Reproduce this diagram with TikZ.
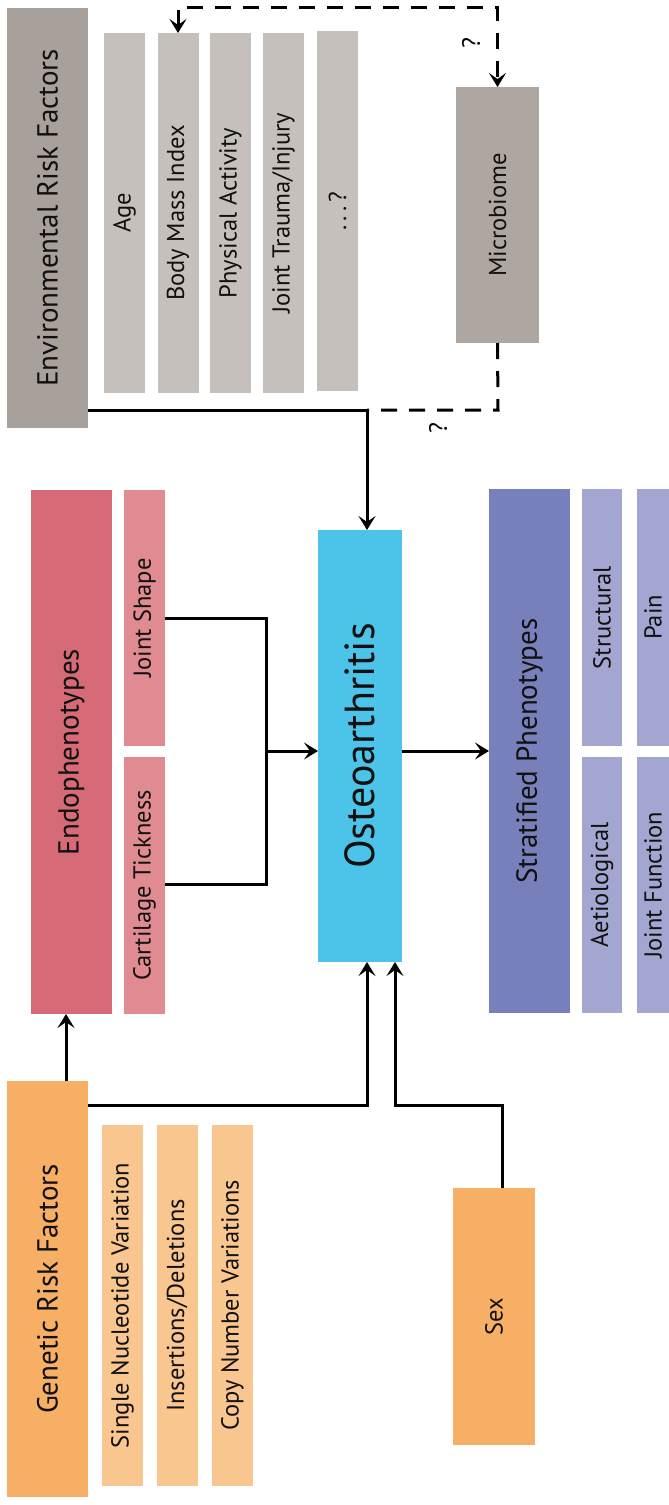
\documentclass[tikz,border=0pt]{standalone}
\usepackage{fontspec}
\setmainfont{PT Sans}
\usetikzlibrary{arrows.meta,calc}
\definecolor{envc}{HTML}{A8A09B}
\definecolor{envs}{HTML}{C5C0BB}
\definecolor{micc}{HTML}{AEA6A1}
\definecolor{endc}{HTML}{D66B77}
\definecolor{ends}{HTML}{E08A92}
\definecolor{ostc}{HTML}{4CC4EA}
\definecolor{strc}{HTML}{7880BC}
\definecolor{strs}{HTML}{A2A6D0}
\definecolor{genc}{HTML}{F7AF65}
\definecolor{gens}{HTML}{FAC68F}
\definecolor{txt}{HTML}{111111}
\tikzset{
  box/.style={draw=none, inner sep=0pt, outer sep=0pt, text=txt, align=center},
  hdr/.style={box, font=\fontsize{29}{32}\selectfont},
  sub/.style={box, font=\fontsize{24.5}{27}\selectfont},
  conn/.style={line width=3pt, draw=black, line join=miter},
  tip/.style={-{Stealth[length=14pt,width=17pt,inset=6pt]}},
  arr/.style={conn, tip},
  dsh/.style={conn, dash pattern=on 16pt off 12pt},
  qm/.style={inner sep=0pt, font=\fontsize{25}{28}\selectfont}
}
\newcommand{\rt}[1]{\rotatebox{90}{#1}}
\begin{document}
\begin{tikzpicture}[x=1pt,y=-1pt]
\clip (0,0) rectangle (669,1505);
\fill[white] (0,0) rectangle (669,1505);
% Environmental
\node[hdr, fill=envc, minimum width=81pt, minimum height=420pt] (env) at (47.5,218) {\rt{Environmental Risk Factors}};
\node[sub, fill=envs, minimum width=41pt, minimum height=360pt] (age) at (124.5,213) {\rt{Age}};
\node[sub, fill=envs, minimum width=41pt, minimum height=360pt] (bmi) at (178,213) {\rt{Body Mass Index}};
\node[sub, fill=envs, minimum width=41pt, minimum height=360pt] (pa) at (230.5,213) {\rt{Physical Activity}};
\node[sub, fill=envs, minimum width=41pt, minimum height=360pt] (jt) at (283.5,213) {\rt{Joint Trauma/Injury}};
\node[sub, fill=envs, minimum width=41pt, minimum height=360pt] (etc) at (337.5,211) {\rt{.\,.\,.\,?}};
\node[sub, fill=micc, minimum width=83pt, minimum height=256pt] (mic) at (497.5,215) {\rt{Microbiome}};
% Endophenotypes
\node[hdr, fill=endc, minimum width=81pt, minimum height=524pt] (endo) at (71.5,752) {\rt{Endophenotypes}};
\node[sub, fill=ends, minimum width=41pt, minimum height=256pt] (js) at (144.5,618) {\rt{Joint Shape}};
\node[sub, fill=ends, minimum width=41pt, minimum height=257pt] (ct) at (144.5,885.5) {\rt{Cartilage Tickness}};
% Osteoarthritis
\node[box, fill=ostc, minimum width=84pt, minimum height=432pt, font=\fontsize{42}{46}\selectfont] (ost) at (360,746) {\rt{Osteoarthritis}};
% Stratified
\node[hdr, fill=strc, minimum width=81pt, minimum height=524pt] (strat) at (529.5,751) {\rt{Stratified Phenotypes}};
\node[sub, fill=strs, minimum width=40pt, minimum height=257pt] (stru) at (602,617.5) {\rt{Structural}};
\node[sub, fill=strs, minimum width=32pt, minimum height=257pt] (pain) at (653,617.5) {\rt{Pain}};
\node[sub, fill=strs, minimum width=40pt, minimum height=256pt] (aet) at (602,885) {\rt{Aetiological}};
\node[sub, fill=strs, minimum width=32pt, minimum height=256pt] (jf) at (653,885) {\rt{Joint Function}};
% Genetic
\node[hdr, fill=genc, minimum width=81pt, minimum height=416pt] (gen) at (47.5,1289) {\rt{Genetic Risk Factors}};
\node[sub, fill=gens, minimum width=41pt, minimum height=361pt] (snv) at (122.5,1305.5) {\rt{Single Nucleotide Variation}};
\node[sub, fill=gens, minimum width=41pt, minimum height=361pt] (ind) at (177,1305.5) {\rt{Insertions/Deletions}};
\node[sub, fill=gens, minimum width=41pt, minimum height=361pt] (cnv) at (232.5,1305.5) {\rt{Copy Number Variations}};
\node[sub, fill=genc, minimum width=82pt, minimum height=257pt] (sex) at (494,1316.5) {\rt{Sex}};
% coordinates
\coordinate (j1) at (367,410);
\coordinate (j2) at (498,410);
\coordinate (t1) at (0,7);
\coordinate (m) at (266,751);
\coordinate (a) at (266,618);
\coordinate (b) at (266,884);
\coordinate (g1) at (66,0);
\coordinate (g2) at (367,1105);
\coordinate (s1) at (502,1105);
\coordinate (s2) at (395,1105);
% connectors
\draw[arr] (env.east |- j1) -- (j1) -- (ost.north -| j1);
\draw[dsh] (mic.south) -- (j2) -- (j1);
\draw[dsh, {Stealth[length=14pt,width=17pt,inset=6pt]}-{Stealth[length=14pt,width=17pt,inset=6pt]}] (bmi.north) -- (bmi.north |- t1) -- (mic.north |- t1) -- (mic.north);
\node[qm] (q1) at (471,43) {\rt{?}};
\node[qm] (q2) at (438,428) {\rt{?}};
\draw[conn] (js.east) -- (a) -- (b) -- (ct.east |- b);
\draw[arr] (m) -- (ost.west |- m);
\draw[arr] (ost.east |- m) -- (strat.west |- m);
\draw[arr] (gen.north -| g1) -- (endo.south -| g1);
\draw[arr] (gen.east |- g2) -- (g2) -- (ost.south -| g2);
\draw[arr] (sex.north -| s1) -- (s1) -- (s2) -- (ost.south -| s2);
\end{tikzpicture}
\end{document}
